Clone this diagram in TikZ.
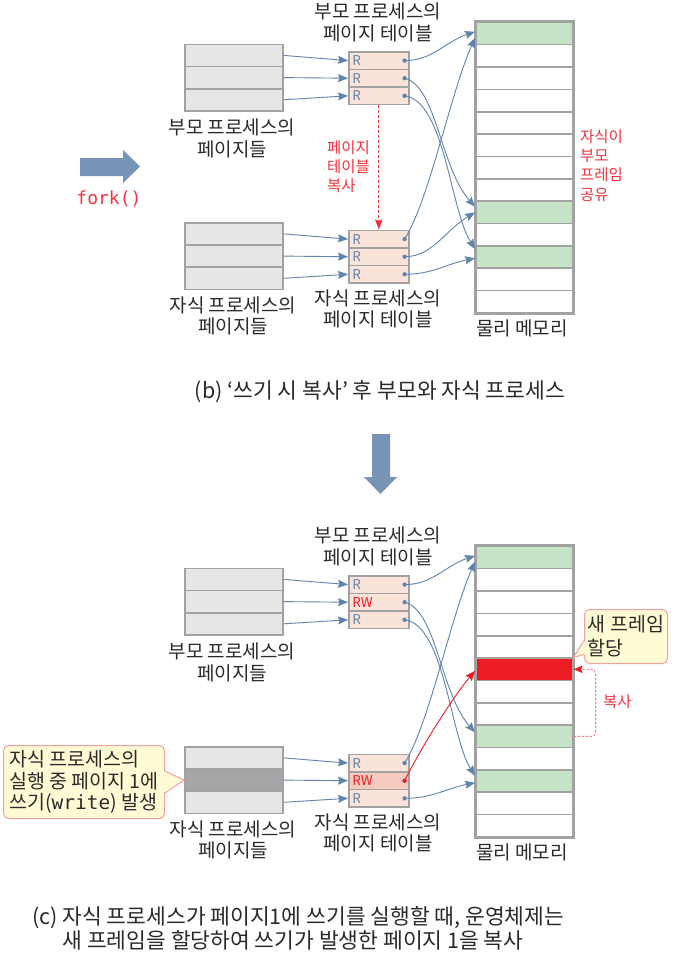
\documentclass[tikz,border=0pt]{standalone}
\usepackage{fontspec}
\setmainfont{Noto Sans CJK KR}
\newfontfamily\monofont{DejaVu Sans Mono}
\usetikzlibrary{arrows.meta}
\definecolor{cblue}{HTML}{5F84AE}
\definecolor{cbig}{HTML}{7793B6}
\definecolor{cpage}{HTML}{E6E6E6}
\definecolor{cpagedark}{HTML}{A6A6A9}
\definecolor{cgray}{HTML}{A2A2A2}
\definecolor{cpt}{HTML}{FAE4DA}
\definecolor{cptrw}{HTML}{F6CABC}
\definecolor{cgreen}{HTML}{C5E3C5}
\definecolor{cred}{HTML}{ED1C24}
\definecolor{ctred}{HTML}{F0353F}
\definecolor{cdash}{HTML}{F27A80}
\definecolor{ccallfill}{HTML}{FFFBD4}
\definecolor{ccallline}{HTML}{F4A0A0}
\definecolor{ctext}{HTML}{2A2A2A}
\tikzset{
  memcell/.style={draw=cgray, line width=1.6pt, fill=white, minimum width=97pt, minimum height=22.36pt, inner sep=0pt, anchor=north west},
  pagecell/.style={draw=cgray, line width=1.6pt, fill=cpage, minimum width=98pt, minimum height=22.2pt, inner sep=0pt, anchor=north west},
  ptcell/.style={draw=cgray, line width=1.6pt, fill=cpt, text width=53pt, inner xsep=3.5pt, inner ysep=0pt, minimum height=17.6pt, align=left, anchor=north west, text=cblue, font=\fontsize{13.5}{15}\selectfont},
  pdot/.style={circle, fill=cblue, inner sep=0pt, minimum size=4.4pt},
  conn/.style={draw=cblue, line width=0.9pt, -{Stealth[length=10pt,width=8pt,inset=1.5pt]}},
  redconn/.style={draw=cred, line width=0.9pt, -{Stealth[length=10pt,width=8pt,inset=1.5pt]}},
  reddash/.style={draw=ctred, line width=0.8pt, dash pattern=on 3pt off 2pt, -{Stealth[length=10pt,width=7.5pt,inset=1.5pt]}},
  pinkdash/.style={draw=cdash, line width=0.8pt, dash pattern=on 2.5pt off 1.5pt, -{Stealth[length=9pt,width=7.5pt,inset=1.5pt,color=cred]}},
  lbl/.style={align=center, inner sep=0pt, text=ctext, font=\fontsize{19}{21.5}\selectfont},
  rednote/.style={align=left, inner sep=0pt, text=ctred, anchor=west, font=\fontsize{15.5}{19.3}\selectfont},
  captext/.style={inner sep=0pt, text=ctext, font=\fontsize{21.5}{23.5}\selectfont},
  bigarrow/.style={fill=cbig, draw=none},
  callbox/.style={draw=ccallline, fill=ccallfill, line width=1pt, rounded corners=5pt, align=left, inner sep=0pt, text=ctext, anchor=north west},
  callwedge/.style={draw=ccallline, line width=1pt},
}
\begin{document}
\begin{tikzpicture}[x=1pt,y=1pt]
\fill[white] (0,0) rectangle (672,-961);
\useasboundingbox (0,0) rectangle (672,-961);

% ================= top panel =================
\foreach \i in {0,...,12}{
  \def\cc{white}
  \ifnum\i=0 \def\cc{cgreen}\fi
  \ifnum\i=8 \def\cc{cgreen}\fi
  \ifnum\i=10 \def\cc{cgreen}\fi
  \node[memcell, fill=\cc] (tm\i) at (475,{-21.5-22.36*\i}) {};
}
\draw[cgray, line width=2.2pt] (tm0.north west) rectangle (tm12.south east);

\foreach \i in {1,2,3}{
  \node[pagecell] (tpp\i) at (184,{-43.5-22.2*(\i-1)}) {};
  \node[pagecell] (tcp\i) at (184,{-222-22.2*(\i-1)}) {};
  \node[ptcell] (tpt\i) at (348,{-51-17.6*(\i-1)}) {R};
  \node[ptcell] (tct\i) at (348,{-229.5-17.6*(\i-1)}) {R};
  \node[pdot] (tpd\i) at ([xshift=-5pt]tpt\i.east) {};
  \node[pdot] (tcd\i) at ([xshift=-5pt]tct\i.east) {};
  \draw[conn] (tpp\i.east) -- (tpt\i.west);
  \draw[conn] (tcp\i.east) -- (tct\i.west);
}

\draw[conn] (tpd1.center) .. controls +(28,0) and +(-30,-10) .. ([yshift=1.7pt]tm0.west);
\draw[conn] (tpd2.center) .. controls +(32,-8) and +(-35,40) .. ([yshift=5.6pt]tm8.west);
\draw[conn] (tpd3.center) .. controls +(40,-5) and +(-25,40) .. ([yshift=8pt]tm10.west);
\draw[conn] (tcd1.center) .. controls +(25,40) and +(-25,-57) .. ([yshift=-4.3pt]tm0.west);
\draw[conn] (tcd2.center) .. controls +(28,0) and +(-30,-18) .. ([yshift=0pt]tm8.west);
\draw[conn] (tcd3.center) .. controls +(28,0) and +(-30,-6) .. ([yshift=-1.2pt]tm10.west);

\draw[reddash] (tpt3.south) -- (tct1.north);

\node[lbl] (tptl) at (378,-22.5) {부모 프로세스의\\페이지 테이블};
\node[lbl] (tppl) at (232,-138.5) {부모 프로세스의\\페이지들};
\node[lbl] (tcpl) at (233,-316) {자식 프로세스의\\페이지들};
\node[lbl] (tctl) at (378,-309) {자식 프로세스의\\페이지 테이블};
\node[lbl] (tml) at (522,-328) {물리 메모리};
\node[rednote] (tshare) at (580,-165.5) {자식이\\부모\\프레임\\공유};
\node[rednote] (tcopy) at (327,-166.5) {페이지\\테이블\\복사};

\fill[bigarrow] (80,-158) -- (123,-158) -- (123,-150) -- (140,-166.5) -- (123,-183) -- (123,-176) -- (80,-176) -- cycle;
\node[inner sep=0pt, text=ctred, font=\monofont\fontsize{18}{20}\selectfont] (fork) at (109,-199) {fork()};

\node[captext] (capb) at (380,-392) {(b) ‘쓰기 시 복사’ 후 부모와 자식 프로세스};

\fill[bigarrow] (372,-434) -- (390,-434) -- (390,-477) -- (397,-477) -- (380.5,-494) -- (364,-477) -- (372,-477) -- cycle;

% ================= bottom panel =================
\begin{scope}[yshift=-524pt]
\foreach \i in {0,...,12}{
  \def\cc{white}
  \ifnum\i=0 \def\cc{cgreen}\fi
  \ifnum\i=5 \def\cc{cred}\fi
  \ifnum\i=8 \def\cc{cgreen}\fi
  \ifnum\i=10 \def\cc{cgreen}\fi
  \node[memcell, fill=\cc] (bm\i) at (475,{-21.5-22.36*\i}) {};
}
\draw[cgray, line width=2.2pt] (bm0.north west) rectangle (bm12.south east);

\foreach \i in {1,2,3}{
  \node[pagecell] (bpp\i) at (184,{-43.5-22.2*(\i-1)}) {};
}
\node[pagecell] (bcp1) at (184,-222) {};
\node[pagecell, fill=cpagedark] (bcp2) at (184,-244.2) {};
\node[pagecell] (bcp3) at (184,-266.4) {};

\node[ptcell] (bpt1) at (348,-51) {R};
\node[ptcell, text=cred] (bpt2) at (348,-68.6) {RW};
\node[ptcell] (bpt3) at (348,-86.2) {R};
\node[ptcell] (bct1) at (348,-229.5) {R};
\node[ptcell, text=cred, fill=cptrw] (bct2) at (348,-247.1) {RW};
\node[ptcell] (bct3) at (348,-264.7) {R};

\foreach \i in {1,2,3}{
  \node[pdot] (bpd\i) at ([xshift=-5pt]bpt\i.east) {};
  \draw[conn] (bpp\i.east) -- (bpt\i.west);
  \draw[conn] (bcp\i.east) -- (bct\i.west);
}
\node[pdot] (bcd1) at ([xshift=-5pt]bct1.east) {};
\node[pdot, fill=cred] (bcd2) at ([xshift=-5pt]bct2.east) {};
\node[pdot] (bcd3) at ([xshift=-5pt]bct3.east) {};

\draw[conn] (bpd1.center) .. controls +(28,0) and +(-30,-10) .. ([yshift=1.7pt]bm0.west);
\draw[conn] (bpd2.center) .. controls +(32,-8) and +(-35,40) .. ([yshift=4pt]bm8.west);
\draw[conn] (bpd3.center) .. controls +(40,-5) and +(-25,40) .. ([yshift=5.3pt]bm10.west);
\draw[conn] (bcd1.center) .. controls +(25,40) and +(-25,-57) .. ([yshift=-4.3pt]bm0.west);
\draw[redconn] (bcd2.center) .. controls +(15,30) and +(-25,-30) .. ([yshift=-1.5pt]bm5.west);
\draw[conn] (bcd3.center) .. controls +(28,0) and +(-30,-6) .. ([yshift=-1.7pt]bm10.west);

\node[lbl] (bptl) at (378,-22.5) {부모 프로세스의\\페이지 테이블};
\node[lbl] (bppl) at (232,-138.5) {부모 프로세스의\\페이지들};
\node[lbl] (bcpl) at (233,-316) {자식 프로세스의\\페이지들};
\node[lbl] (bctl) at (378,-309) {자식 프로세스의\\페이지 테이블};
\node[lbl] (bml) at (522,-328) {물리 메모리};

% left callout
\node[callbox, minimum width=161pt, minimum height=73pt, font=\fontsize{19.5}{21.5}\selectfont] (cl) at (3,-221) {자식 프로세스의\\실행 중 페이지 1에\\쓰기({\monofont write}) 발생};
\fill[ccallfill] ([yshift=11pt,xshift=-1.5pt]cl.east) -- (bcp2.west) -- ([yshift=-11pt,xshift=-1.5pt]cl.east) -- cycle;
\draw[callwedge] ([yshift=11pt]cl.east) -- (bcp2.west) -- ([yshift=-11pt]cl.east);

% right callout
\node[callbox, minimum width=83pt, minimum height=54pt, font=\fontsize{19.5}{24}\selectfont] (cr) at (584,-85) {새 프레임\\할당};
\fill[ccallfill] ([yshift=-4pt,xshift=1.5pt]cr.west) -- (bm5.north east) -- ([yshift=-18pt,xshift=1.5pt]cr.west) -- cycle;
\draw[callwedge] ([yshift=-4pt]cr.west) -- (bm5.north east) -- ([yshift=-18pt]cr.west);

\draw[pinkdash, rounded corners=4pt] (bm8.east) -- ++(22,0) |- (bm5.east);
\node[rednote] (bcopy) at (603,-178) {복사};
\end{scope}

\node[captext, align=left, anchor=west] (capc) at (32,-928.5) {(c) 자식 프로세스가 페이지1에 쓰기를 실행할 때, 운영체제는\\\hphantom{(c) }새 프레임을 할당하여 쓰기가 발생한 페이지 1을 복사};
\end{tikzpicture}
\end{document}
